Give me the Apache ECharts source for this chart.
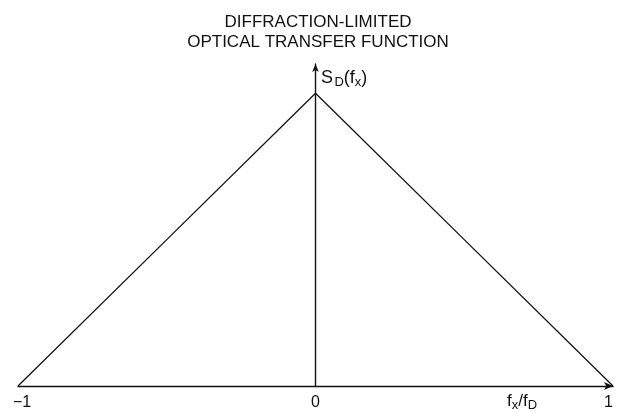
<!DOCTYPE html>
<html>
<head>
<meta charset="utf-8">
<script src="https://cdn.jsdelivr.net/npm/echarts@6/dist/echarts.min.js"></script>
<style>
  html, body { margin: 0; padding: 0; background: #fff; }
  #chart { width: 617px; height: 413px; }
</style>
</head>
<body>
<div id="chart"></div>
<script>
// Normalized spatial frequency f_x / f_D and the transfer function S_D(f_x)
const freq = [-1, -0.5, 0, 0.5, 1];
const transfer = [0, 0.5, 1, 0.5, 0];
const xTicks = [-1, 0, 1];
const titleLines = ['DIFFRACTION-LIMITED', 'OPTICAL TRANSFER FUNCTION'];

const FONT = '"Liberation Sans", Arial, Helvetica, sans-serif';
const INK = '#111';

const chart = echarts.init(document.getElementById('chart'), null, { renderer: 'canvas' });

chart.setOption({
  backgroundColor: '#fff',
  animation: false,
  title: {
    text: titleLines.join('\n'),
    left: 313,
    top: 7,
    textAlign: 'center',
    textStyle: { fontFamily: FONT, fontSize: 17, fontWeight: 'normal', color: INK, lineHeight: 20 }
  },
  grid: { left: 18, right: 4, top: 64, bottom: 27, containLabel: false },
  xAxis: {
    type: 'value',
    min: -1,
    max: 1,
    interval: 1,
    axisLine: {
      show: true,
      onZero: false,
      symbol: ['none', 'arrow'],
      symbolSize: [6, 9],
      lineStyle: { color: INK, width: 1.4 }
    },
    axisTick: { show: false },
    splitLine: { show: false },
    axisLabel: {
      margin: 9,
      color: INK,
      fontFamily: FONT,
      fontSize: 16,
      showMinLabel: true,
      showMaxLabel: true,
      formatter: function (v) {
        if (xTicks.indexOf(v) < 0) return '';
        if (v < 0) return '{l|\u2212' + Math.abs(v) + '}';
        if (v > 0) return '{r|' + v + '}';
        return String(v);
      },
      rich: {
        l: { fontFamily: FONT, fontSize: 16, color: INK, padding: [0, 0, 0, 8] },
        r: { fontFamily: FONT, fontSize: 16, color: INK, padding: [0, 9, 0, 0] }
      }
    }
  },
  yAxis: {
    type: 'value',
    min: 0,
    max: 1.1,
    axisLine: {
      show: true,
      onZero: true,
      symbol: ['none', 'arrow'],
      symbolSize: [5, 8],
      lineStyle: { color: INK, width: 1.4 }
    },
    axisTick: { show: false },
    axisLabel: { show: false },
    splitLine: { show: false }
  },
  graphic: [
    {
      type: 'text',
      left: 321,
      top: 69,
      style: {
        text: '{n|S}{g| }{s|D}{n|(f}{s|x}{n|)}',
        rich: {
          n: { fontFamily: FONT, fontSize: 18, fill: INK, lineHeight: 22, verticalAlign: 'middle' },
          g: { fontFamily: FONT, fontSize: 5, fill: INK, lineHeight: 12, verticalAlign: 'bottom' },
          s: { fontFamily: FONT, fontSize: 13, fill: INK, lineHeight: 13, verticalAlign: 'bottom' }
        }
      }
    },
    {
      type: 'text',
      left: 507,
      top: 393,
      style: {
        text: '{n|f}{s|x}{n|/f}{s|D}',
        rich: {
          n: { fontFamily: FONT, fontSize: 17, fill: INK, lineHeight: 20, verticalAlign: 'middle' },
          s: { fontFamily: FONT, fontSize: 13, fill: INK, lineHeight: 12, verticalAlign: 'bottom' }
        }
      }
    }
  ],
  series: [
    {
      type: 'line',
      data: freq.map((f, i) => [f, transfer[i]]),
      showSymbol: false,
      lineStyle: { color: INK, width: 1.3 },
      silent: true
    }
  ]
});
</script>
</body>
</html>
